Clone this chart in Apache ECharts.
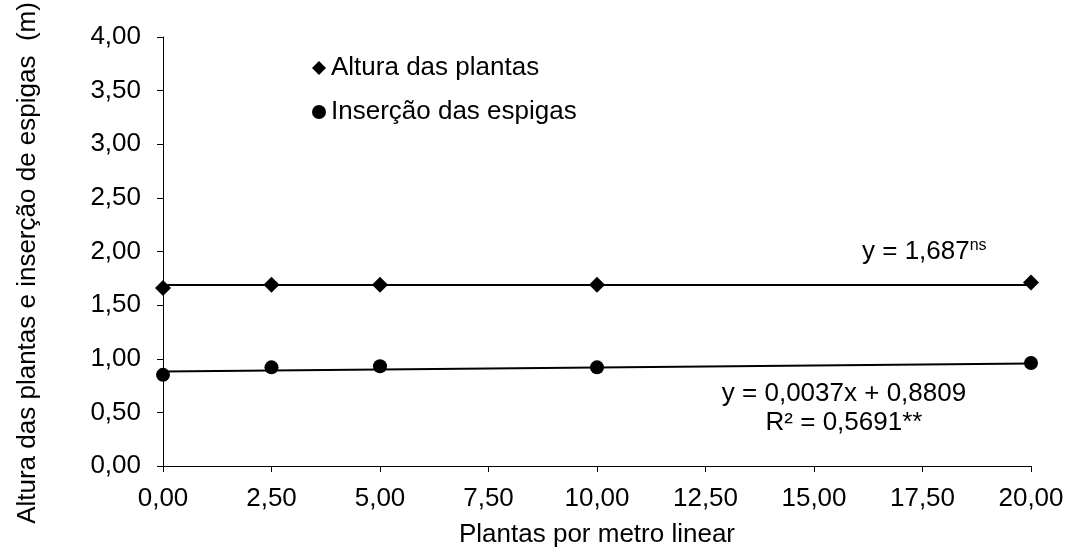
<!DOCTYPE html>
<html>
<head>
<meta charset="utf-8">
<script src="https://cdn.jsdelivr.net/npm/echarts@6/dist/echarts.min.js"></script>
<style>
  html, body { margin: 0; padding: 0; background: #ffffff; }
  #chart { width: 1068px; height: 553px; }
</style>
</head>
<body>
<div id="chart"></div>
<script>
// Plant density (plants per linear metre)
const plantsPerMeter = [0, 2.5, 5, 10, 20];
// Observed plant height (m)
const plantHeight = [1.66, 1.69, 1.69, 1.69, 1.71];
// Observed ear insertion height (m)
const earInsertion = [0.85, 0.92, 0.93, 0.92, 0.96];

// Fitted models stated on the chart
const heightMean = 1.687;
const insertionSlope = 0.0037;
const insertionIntercept = 0.8809;
const insertionR2 = '0,5691';

const seriesNames = ['Altura das plantas', 'Inserção das espigas'];
const xTitle = 'Plantas por metro linear';
const yTitle = 'Altura das plantas e inserção de espigas  (m)';

const FONT = '"Liberation Sans", Arial, sans-serif';
const FS = 26;
const comma = v => v.toFixed(2).replace('.', ',');
// Diamond filling its whole bounding box
const DIAMOND = 'path://M0,1 L1,0 L2,1 L1,2 Z';

const xMin = plantsPerMeter[0];
const xMax = plantsPerMeter[plantsPerMeter.length - 1];

const heightPoints = plantsPerMeter.map((x, i) => [x, plantHeight[i]]);
const insertionPoints = plantsPerMeter.map((x, i) => [x, earInsertion[i]]);
const heightFit = [[xMin, heightMean], [xMax, heightMean]];
const insertionFit = [xMin, xMax].map(x => [x, insertionSlope * x + insertionIntercept]);

const chart = echarts.init(document.getElementById('chart'), null, { renderer: 'canvas' });

chart.setOption({
  animation: false,
  backgroundColor: '#ffffff',
  textStyle: { fontFamily: FONT, color: '#000' },
  grid: { left: 163, right: 37, top: 37, bottom: 85, containLabel: false },
  legend: {
    orient: 'vertical',
    left: 307,
    top: 50,
    itemWidth: 14,
    itemHeight: 14,
    itemGap: 18,
    itemStyle: { opacity: 1 },
    textStyle: { fontFamily: FONT, fontSize: FS, color: '#000' },
    data: [
      { name: seriesNames[0], icon: DIAMOND },
      { name: seriesNames[1], icon: 'circle' }
    ]
  },
  xAxis: {
    type: 'value',
    min: 0,
    max: 20,
    interval: 2.5,
    name: xTitle,
    nameLocation: 'middle',
    nameGap: 56,
    nameTextStyle: { fontFamily: FONT, fontSize: FS, color: '#000' },
    axisLine: { lineStyle: { color: '#000', width: 1 } },
    axisTick: { show: true, inside: false, length: 6, lineStyle: { color: '#000' } },
    axisLabel: { formatter: comma, fontFamily: FONT, fontSize: FS, color: '#000', margin: 20 },
    splitLine: { show: false }
  },
  yAxis: {
    type: 'value',
    min: 0,
    max: 4,
    interval: 0.5,
    axisLine: { show: true, lineStyle: { color: '#000', width: 1 } },
    axisTick: { show: true, inside: false, length: 6, lineStyle: { color: '#000' } },
    axisLabel: { formatter: comma, fontFamily: FONT, fontSize: FS, color: '#000', margin: 22 },
    splitLine: { show: false }
  },
  graphic: [
    {
      type: 'text',
      x: 28,
      y: 263,
      rotation: Math.PI / 2,
      style: {
        text: yTitle,
        font: FS + 'px ' + FONT,
        fill: '#000',
        align: 'center',
        verticalAlign: 'middle'
      }
    },
    {
      type: 'text',
      x: 862,
      y: 252,
      style: {
        text: '{a|y = ' + String(heightMean).replace('.', ',') + '}{b|ns}',
        align: 'left',
        verticalAlign: 'middle',
        rich: {
          a: { fontFamily: FONT, fontSize: FS, color: '#000', lineHeight: 28 },
          b: { fontFamily: FONT, fontSize: 16, color: '#000', verticalAlign: 'top', lineHeight: 28 }
        }
      }
    },
    {
      type: 'text',
      x: 844,
      y: 408,
      style: {
        text: 'y = ' + String(insertionSlope).replace('.', ',') + 'x + ' +
              String(insertionIntercept).replace('.', ',') + '\nR² = ' + insertionR2 + '**',
        font: FS + 'px ' + FONT,
        fill: '#000',
        align: 'center',
        verticalAlign: 'middle',
        lineHeight: 29
      }
    }
  ],
  series: [
    {
      name: 'heightFit',
      type: 'line',
      data: heightFit,
      symbol: 'none',
      silent: true,
      lineStyle: { color: '#000', width: 2 },
      z: 2
    },
    {
      name: 'insertionFit',
      type: 'line',
      data: insertionFit,
      symbol: 'none',
      silent: true,
      lineStyle: { color: '#000', width: 2 },
      z: 2
    },
    {
      name: seriesNames[0],
      type: 'scatter',
      data: heightPoints,
      symbol: DIAMOND,
      symbolSize: 16,
      itemStyle: { color: '#000', opacity: 1 },
      z: 3
    },
    {
      name: seriesNames[1],
      type: 'scatter',
      data: insertionPoints,
      symbol: 'circle',
      symbolSize: 14,
      itemStyle: { color: '#000', opacity: 1 },
      z: 3
    }
  ]
});
</script>
</body>
</html>
